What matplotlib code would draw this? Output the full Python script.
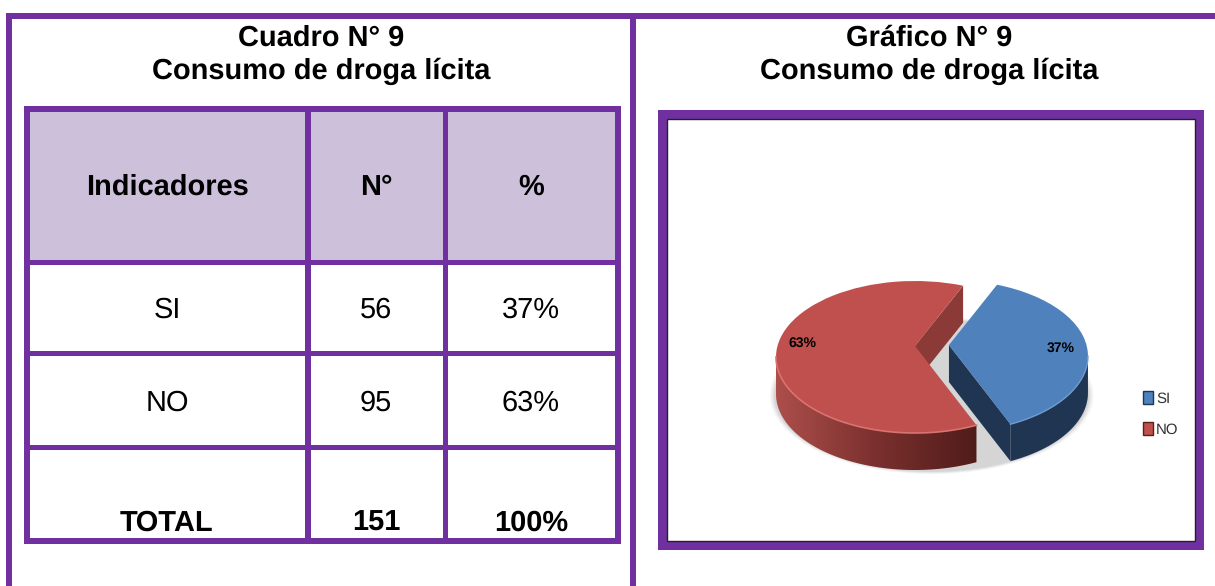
#!/usr/bin/env python3

import matplotlib
matplotlib.use("Agg")
import matplotlib.pyplot as plt
import matplotlib.patches as patches
import matplotlib.colors as colors
import numpy as np

plt.rcParams['font.family'] = ['Liberation Sans', 'DejaVu Sans']
plt.rcParams['text.hinting'] = 'no_hinting'
plt.rcParams['text.hinting_factor'] = 1

titles_left = ["Cuadro N° 9", "Consumo de droga lícita"]
titles_right = ["Gráfico N° 9", "Consumo de droga lícita"]
headers = ["Indicadores", "N°", "%"]
categories = ["SI", "NO"]
counts = [56, 95]
percents = ["37%", "63%"]
total_row = ["TOTAL", "151", "100%"]

PURPLE = '#7030a0'
HEADER = '#ccc0da'
BLUE = '#4f81bd'
RED = '#c0504d'

fig = plt.figure(figsize=(12.15, 5.86), dpi=100)
ax = fig.add_axes([0, 0, 1, 1])
ax.set_xlim(0, 1215)
ax.set_ylim(586, 0)
ax.axis('off')


def rect(x0, y0, x1, y1, color, z=2):
    ax.add_patch(patches.Rectangle((x0, y0), x1 - x0, y1 - y0, facecolor=color, edgecolor='none', zorder=z))


# outer frame
rect(6, 13, 1215, 19, PURPLE)
rect(6, 13, 12, 586, PURPLE)
rect(630, 13, 636, 586, PURPLE)

# table
rect(30, 112, 615, 260, HEADER, z=1)
for x0, x1 in [(24, 30), (305, 311), (443, 448), (615, 621)]:
    rect(x0, 106, x1, 544, PURPLE)
for y0, y1 in [(106, 112), (260, 265), (351, 356), (445, 450), (538, 544)]:
    rect(24, y0, 621, y1, PURPLE)

# chart box
rect(658, 110, 1204, 119, PURPLE)
rect(658, 541, 1204, 550, PURPLE)
rect(658, 110, 667, 550, PURPLE)
rect(1195, 110, 1204, 550, PURPLE)
ax.add_patch(patches.Rectangle((667, 119), 528, 422, facecolor='none', edgecolor='#222222', linewidth=1.0, zorder=3))

# titles
for text_x, title in [(321, titles_left), (929, titles_right)]:
    ax.text(text_x, 46, title[0], ha='center', va='baseline', fontsize=21.2, fontweight='bold', color='black')
    ax.text(text_x, 79, title[1], ha='center', va='baseline', fontsize=21.2, fontweight='bold', color='black')

col_x = [167, 376, 531]
for x, label in zip(col_x, headers):
    ax.text(x, 195, label, ha='center', va='baseline', fontsize=21.2, fontweight='bold')
for y, cat, count, pct in zip([318, 411], categories, counts, percents):
    for x, label in zip(col_x, [cat, str(count), pct]):
        ax.text(x, y, label, ha='center', va='baseline', fontsize=21.2)
for x, label in zip(col_x, total_row):
    ax.text(x, 531, label, ha='center', va='baseline', fontsize=21.2, fontweight='bold')

# pie, one unit is one radius of the top ellipse
cx, cy, rx, ry = 915, 357, 139, 76
depth = 37 / ry
explode = 34 / rx
apex_lift = 11 / ry

pie_ax = fig.add_axes([0, 0, 1, 1], zorder=5)
pie_ax.patch.set_alpha(0)
share = counts[0] / sum(counts) * 360
tilt = 3
start = -share / 2 + tilt
end = share / 2 + tilt
wedges, _, autotexts = pie_ax.pie(counts, explode=[explode, 0], startangle=start, colors=[BLUE, RED],
                                  autopct='%.0f%%', textprops={'fontsize': 10, 'fontweight': 'bold'},
                                  wedgeprops={'linewidth': 0, 'zorder': 4}, normalize=True)
pie_ax.set_aspect('auto')
autotexts[0].set_position(((1061 - cx) / rx, (cy - 348) / ry))
autotexts[1].set_position(((802 - cx) / rx, (cy - 343) / ry))
for t in autotexts:
    t.set_zorder(6)

blue_dx = explode * np.cos(np.radians(tilt))
blue_dy = explode * np.sin(np.radians(tilt))

# the picture is in perspective, the tips sit higher than the ellipse centre
for wedge, (dx, dy) in zip(wedges, [(blue_dx, blue_dy), (0, 0)]):
    path = wedge.get_path()
    v = path.vertices.copy()
    dist = np.hypot(v[:, 0] - dx, v[:, 1] - dy)
    v[:, 1] += apex_lift * np.clip(1 - dist, 0, 1)
    path.vertices = v


def arc(t0, t1, x0=0.0, y0=0.0):
    t = np.radians(np.linspace(t0, t1, 80))
    return np.column_stack([x0 + np.cos(t), y0 + np.sin(t)])


def ribbon(points):
    low = points[::-1] - [0, depth]
    return np.vstack([points, low])


# soft shadow under the pie
for grow, alpha in zip([0.035, 0.025, 0.015, 0.005], [0.05, 0.07, 0.09, 0.12]):
    pie_ax.add_patch(patches.Ellipse((0.12, -depth - 0.02), 2.26 + grow * 2, 2.0 + grow * 2,
                                     facecolor='#777777', edgecolor='none', alpha=alpha, zorder=1))

# blue walls
blue_cut = np.vstack([[blue_dx, blue_dy + apex_lift], arc(start, start, blue_dx, blue_dy)])
pie_ax.fill(*ribbon(blue_cut).T, color='#1f3552', linewidth=0, zorder=2)
pie_ax.fill(*ribbon(arc(start, 0, blue_dx, blue_dy)).T, color='#1f3552', linewidth=0, zorder=2)

# red walls
red_cut = np.vstack([[0, apex_lift], arc(end, end)])
pie_ax.fill(*ribbon(red_cut).T, color='#8b3a37', linewidth=0, zorder=2)
red_side = ribbon(arc(180, 360 + start))
side_cmap = colors.LinearSegmentedColormap.from_list('side', ['#ad4f4b', '#7a302e', '#501c1a'])
grad = pie_ax.imshow(np.linspace(0, 1, 256).reshape(1, -1), cmap=side_cmap, aspect='auto',
                     extent=[red_side[:, 0].min(), red_side[:, 0].max(), red_side[:, 1].min(), red_side[:, 1].max()],
                     zorder=3)
grad.set_clip_path(patches.Polygon(red_side, closed=True, transform=pie_ax.transData))
pie_ax.set_xlim((0 - cx) / rx, (1215 - cx) / rx)
pie_ax.set_ylim((cy - 586) / ry, cy / ry)

# lighter rim on the top edge
pie_ax.plot(*arc(180, 360 + start).T, color='#d9736f', linewidth=1.2, zorder=5)
pie_ax.plot(*arc(start, 0, blue_dx, blue_dy).T, color='#6f9bd1', linewidth=1.0, zorder=5)

leg = pie_ax.legend(wedges, categories, loc='upper left', bbox_to_anchor=(1143 / 1215, 1 - 391 / 586),
                    bbox_transform=fig.transFigure, frameon=False, fontsize=10.5, handlelength=0.7,
                    handleheight=1.0, handletextpad=0.2, labelspacing=1.15, borderpad=0, borderaxespad=0,
                    labelcolor='#333333')
for handle, edge in zip(leg.get_patches(), ['#1f3552', '#5a1f1c']):
    handle.set_edgecolor(edge)
    handle.set_linewidth(1.0)

plt.savefig('out.png', dpi=100)
